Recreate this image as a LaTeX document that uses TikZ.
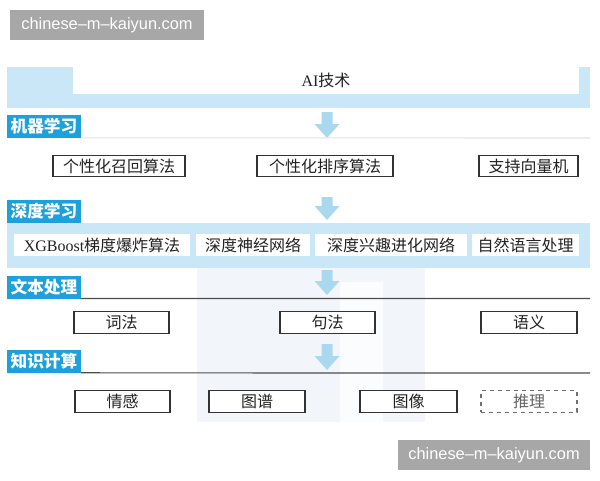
\documentclass[tikz,border=0pt]{standalone}
\usepackage{fontspec}
\setmainfont{Liberation Serif}
\newfontfamily\cjk{Noto Sans CJK SC}
\newfontfamily\wmfont{Liberation Sans}
\definecolor{bandcol}{HTML}{C9E7F7}
\definecolor{arrcol}{HTML}{AAD8EF}
\definecolor{labcol}{HTML}{1DA1DC}
\definecolor{wmcol}{HTML}{A7A7A7}
\definecolor{boxline}{HTML}{333333}
\definecolor{txtcol}{HTML}{222222}
\definecolor{ruledark}{HTML}{4D4D4D}
\definecolor{rulelight}{HTML}{E2E2E2}
\definecolor{ghost}{HTML}{F2F6FA}
\definecolor{ghostin}{HTML}{FAFCFD}
\newcommand\downarr[3]{%
  \fill[arrcol] (#1-5.5,#2) -- (#1+5.5,#2) -- (#1+5.5,#3-14) -- (#1+12.5,#3-14)
    -- (#1,#3) -- (#1-12.5,#3-14) -- (#1-5.5,#3-14) -- cycle;}
\begin{document}
\begin{tikzpicture}[x=0.75pt,y=-0.75pt,
  every node/.style={inner sep=0pt, outer sep=0pt},
  box/.style={draw=boxline, line width=0.8pt, fill=white, text=txtcol,
     font=\cjk\fontsize{12}{14}\selectfont, minimum height=16pt},
  wbox/.style={fill=white, text=txtcol, font=\cjk\fontsize{12}{14}\selectfont,
     minimum height=16.5pt},
  lab/.style={fill=labcol, text=white, font=\cjk\bfseries\fontsize{12.5}{14}\selectfont,
     minimum width=55.5pt, minimum height=17pt},
  wm/.style={fill=wmcol, text=white, font=\wmfont\fontsize{12.3}{14}\selectfont,
     minimum width=145.5pt, minimum height=22.5pt}]
\useasboundingbox (0,0) rectangle (600,480);
\fill[white] (0,0) rectangle (600,480);
% faint background shape
\fill[ghost] (197,255) rectangle (425,422);
\fill[ghostin] (340,282) rectangle (383,422);
% watermark top
\node[wm] (wm1) at (107,25) {chinese–m–kaiyun.com};
% AI band
\fill[bandcol] (7,67) rectangle (590,108);
\node[wbox, minimum width=379.5pt, minimum height=20.25pt] (ai) at (326,80.5)
  {\rmfamily AI\cjk 技术};
\downarr{327}{112}{138}
% machine learning
\node[lab] (ml) at (44,126.5) {机器学习};
\draw[rulelight, line width=0.8pt] (ml.south east) -- (590,138);
\node[box, minimum width=99pt] (r1a) at (119,166) {个性化召回算法};
\node[box, minimum width=102pt] (r1b) at (325,166) {个性化排序算法};
\node[box, minimum width=74.25pt] (r1c) at (528.5,166) {支持向量机};
\downarr{327}{197}{220}
% deep learning
\node[lab] (dl) at (44,211.5) {深度学习};
\fill[bandcol] (7,223) rectangle (590,268);
\node[wbox, minimum width=132pt] (d1) at (102,245) {\rmfamily XGBoost\cjk 梯度爆炸算法};
\node[wbox, minimum width=85.5pt] (d2) at (253,245) {深度神经网络};
\node[wbox, minimum width=114pt] (d3) at (391,245) {深度兴趣进化网络};
\node[wbox, minimum width=80.25pt] (d4) at (525.5,245) {自然语言处理};
\downarr{327}{270}{295}
% text processing
\node[lab] (tp) at (44,287.25) {文本处理};
\draw[ruledark, line width=0.9pt] (tp.south east) -- (590,298.5);
\node[box, minimum width=71.25pt] (t1) at (121.5,322.5) {词法};
\node[box, minimum width=71.25pt] (t2) at (327.5,322.5) {句法};
\node[box, minimum width=72pt] (t3) at (529,322.5) {语义};
\downarr{327}{344}{370}
% knowledge computing
\node[lab] (kc) at (44,361.5) {知识计算};
\draw[ruledark, line width=0.9pt] (kc.south east) -- (590,373);
\node[box, minimum width=71.25pt] (k1) at (122.5,401.5) {情感};
\node[box, minimum width=72pt] (k2) at (257,401.5) {图谱};
\node[box, minimum width=72.75pt] (k3) at (408.5,401.5) {图像};
\node[box, minimum width=72pt, dashed, draw=boxline!70, text=txtcol!70] (k4) at (529,401.5) {推理};
% watermark bottom
\node[wm, minimum width=144pt] (wm2) at (494,455) {chinese–m–kaiyun.com};
\end{tikzpicture}
\end{document}
